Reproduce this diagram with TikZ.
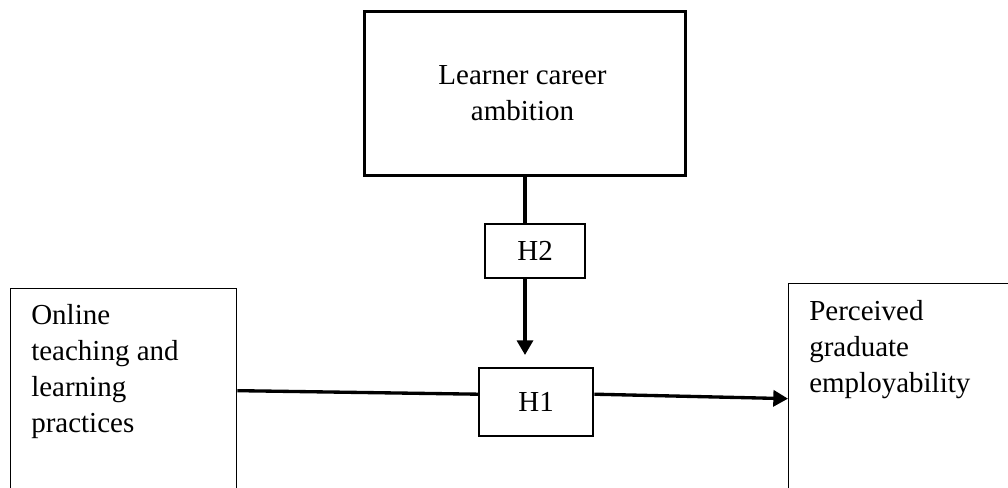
\documentclass[tikz,border=0pt]{standalone}
\usepackage{fontspec}
\setmainfont{Liberation Serif}
\usetikzlibrary{arrows.meta}
\newcommand{\px}{0.75pt}
\begin{document}
\begin{tikzpicture}[x=0.75pt,y=-0.75pt,
  boxbase/.style={draw=black, inner sep=0pt, anchor=north west},
  thickbox/.style={boxbase, line width=2.2pt},
  hbox/.style={boxbase, line width=1.8pt},
  thinbox/.style={boxbase, line width=1pt},
  lbl/.style={inner sep=0pt, font=\fontsize{21.75pt}{26.5pt}\selectfont},
  conn/.style={line width=2.5pt, line cap=butt},
  arr/.style={conn, -{Triangle[length=11pt,width=12pt]}}]
\useasboundingbox (0,0) rectangle (1008,488);
% boxes
\node[thickbox, minimum width=321*\px, minimum height=164*\px] (top) at (363,10) {};
\node[hbox, minimum width=100*\px, minimum height=54*\px] (h2) at (484,223) {};
\node[hbox, minimum width=114*\px, minimum height=68*\px] (h1) at (478,367) {};
\node[thinbox, minimum width=226*\px, minimum height=204*\px] (lbox) at (10,288) {};
\node[thinbox, minimum width=242*\px, minimum height=230*\px] (rbox) at (788,283) {};
% texts
\node[lbl, align=center] (toptext) at (522.5,93) {Learner career\\ambition};
\node[lbl] (h2text) at (h2.center) {H2};
\node[lbl] (h1text) at (h1.center) {H1};
\node[lbl, anchor=base west] (ltext) at (31,325)
  {\parbox[t]{200\px}{\raggedright\baselineskip=27pt Online\\teaching and\\learning\\practices}};
\node[lbl, anchor=base west] (rtext) at (809,321)
  {\parbox[t]{195\px}{\raggedright\baselineskip=27pt Perceived\\graduate\\employability}};
% connectors
\coordinate (tip) at (525,355);
\draw[conn] (top.south) -- (top.south |- h2.north);
\draw[arr] (h2.south -| tip) -- (tip);
\draw[conn] (lbox.east) -- ([yshift=6pt]h1.west);
\draw[arr] ([yshift=6pt]h1.east) -- (rbox.west);
\end{tikzpicture}
\end{document}
